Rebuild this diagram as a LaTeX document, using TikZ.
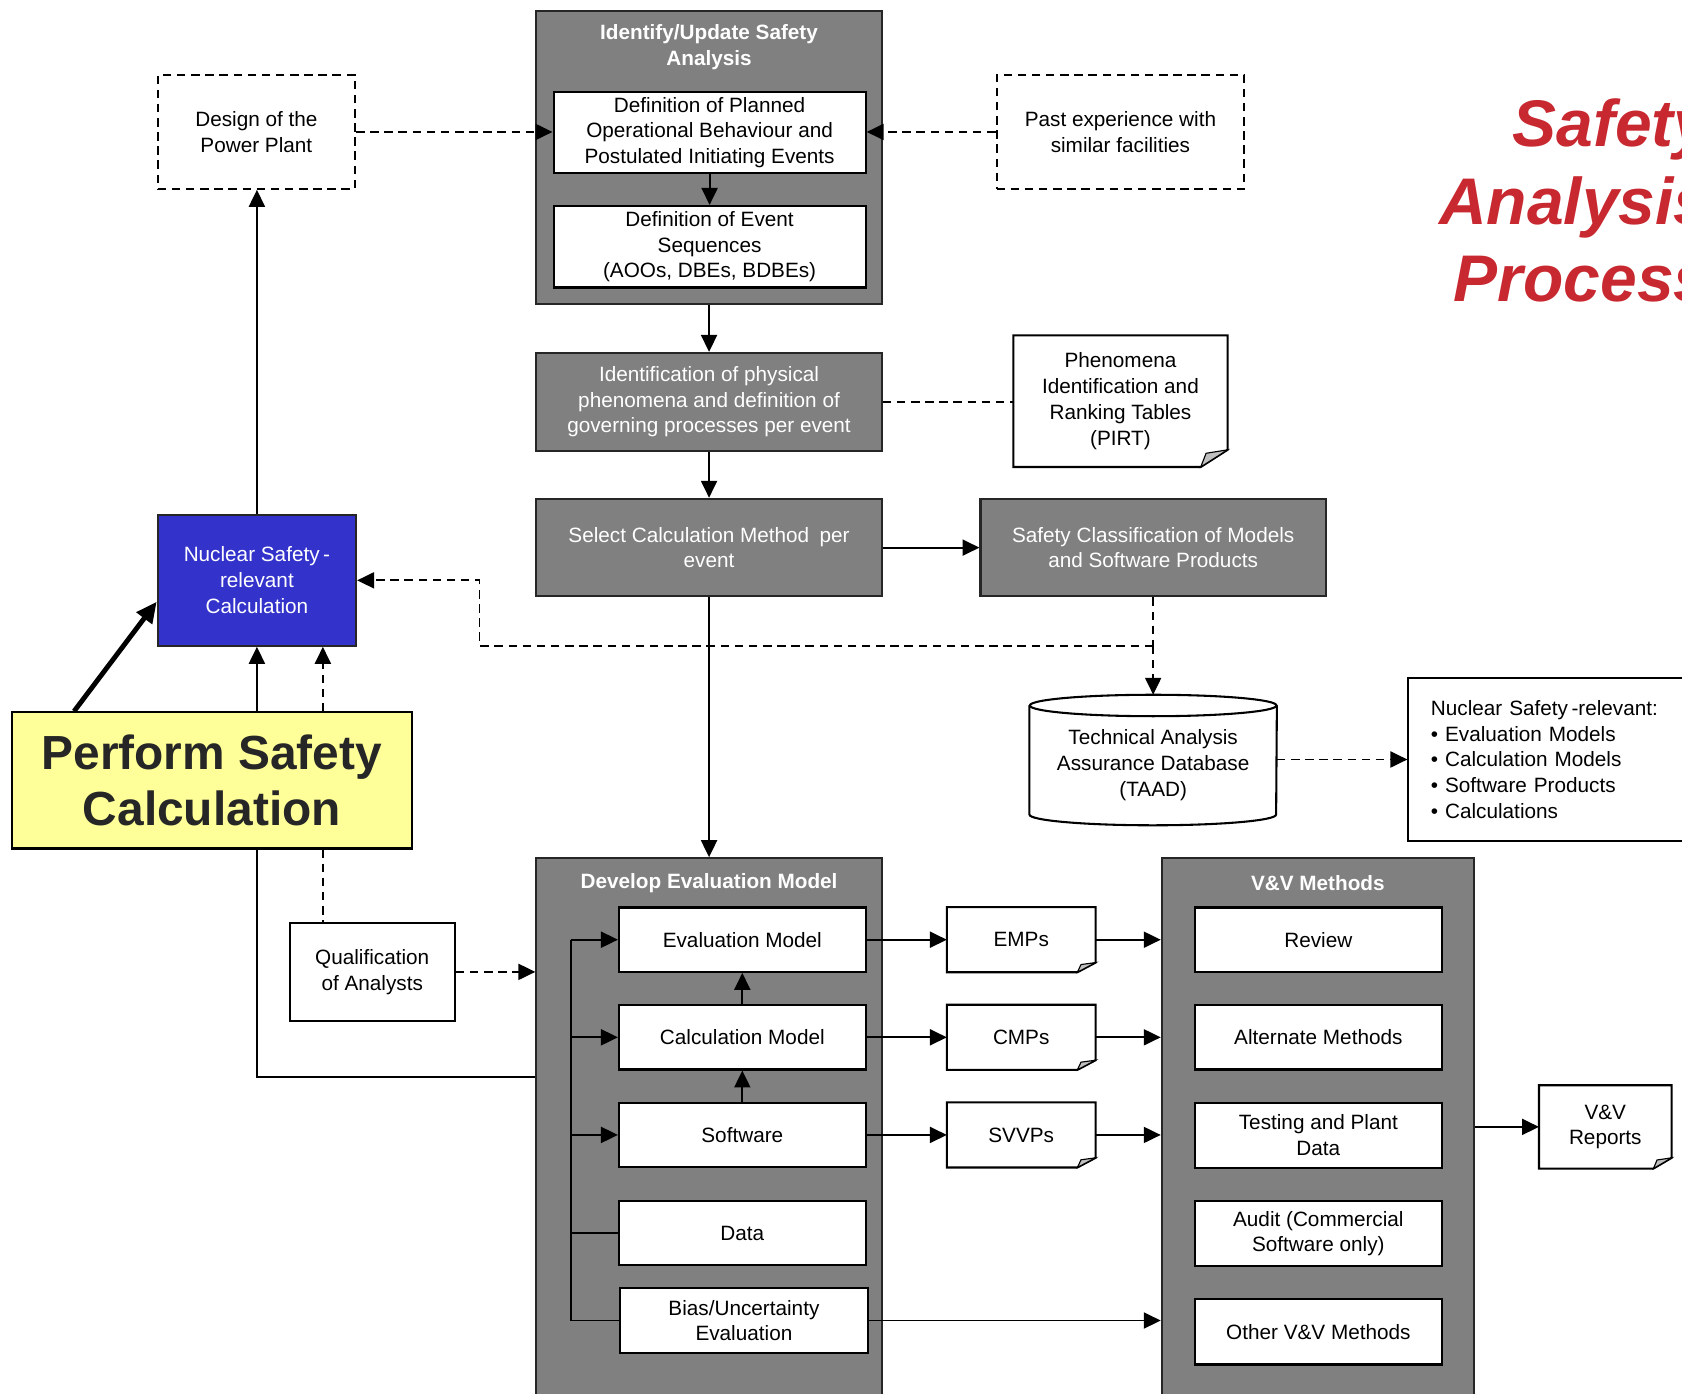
\documentclass[tikz,border=0pt]{standalone}
\usepackage{fontspec}
\setmainfont{Liberation Sans}
\usetikzlibrary{arrows.meta,calc}
\definecolor{boxgray}{HTML}{808080}
\definecolor{nscblue}{HTML}{3333CC}
\definecolor{calcyellow}{HTML}{FFFF99}
\definecolor{titlered}{RGB}{200,40,48}
\tikzset{
    txt/.style = {font=\fontsize{11}{13.7}\selectfont, align=center, inner sep=0pt},
    grey/.style = {txt, draw=black!85, line width=1.1pt, fill=boxgray, text=white},
    block/.style = {txt, draw, line width=1.1pt, fill=white},
    dblock/.style = {txt, draw, dash pattern=on 4.5pt off 3pt, line width=1.1pt},
    doc/.style = {txt},
    head/.style = {txt, text=white, font=\fontsize{11}{13.7}\selectfont\bfseries},
    arrow/.style = {draw, line width=1pt, -{Triangle[length=9pt,width=8.5pt]}},
    darrow/.style = {arrow, dash pattern=on 4.5pt off 3pt},
    line/.style = {draw, line width=1pt},
    dline/.style = {line, dash pattern=on 4.5pt off 3pt}
}
\begin{document}
\begin{tikzpicture}[x=0.02cm, y=-0.02cm]
\useasboundingbox (0,0) rectangle (1568,1299);

\node[anchor=east, align=right, inner sep=0pt, text=titlered, font=\fontsize{35}{41}\selectfont\bfseries\itshape] (title) at (1595,187) {Safety\\Analysis\\Process};

\node[grey, minimum width=6.44cm, minimum height=5.46cm] (ident) at (661,146.5) {};
\node[head] (identT) at (661,44) {Identify/Update Safety\\Analysis};
\node[block, minimum width=5.82cm, minimum height=1.5cm] (defPIE) at (661.5,123.5) {Definition of Planned\\Operational Behaviour and\\Postulated Initiating Events};
\node[block, minimum width=5.82cm, minimum height=1.52cm] (defSeq) at (661.5,230) {Definition of Event\\Sequences\\(AOOs, DBEs, BDBEs)};
\node[dblock, minimum width=3.68cm, minimum height=2.12cm] (design) at (239,123) {Design of the\\Power Plant};
\node[dblock, minimum width=4.62cm, minimum height=2.12cm] (past) at (1044.5,123) {Past experience with\\similar facilities};
\node[grey, minimum width=6.44cm, minimum height=1.82cm] (phys) at (661,374.5) {Identification of physical\\phenomena and definition of\\governing processes per event};
\node[doc, minimum width=3.98cm, minimum height=2.44cm] (pirt) at (1044.5,374) {Phenomena\\Identification and\\Ranking Tables\\(PIRT)};
\node[grey, minimum width=6.44cm, minimum height=1.82cm] (select) at (661,510.5) {Select Calculation Method\enspace per\\event};
\node[grey, minimum width=6.44cm, minimum height=1.82cm] (classif) at (1075,510.5) {Safety Classification of Models\\and Software Products};
\node[txt, minimum width=4.6cm, minimum height=1.82cm] (taad) at (1075,713.5) {Technical Analysis\\Assurance Database\\(TAAD)};
\node[txt, draw, line width=1.1pt, anchor=west, minimum height=3.04cm, text width=5.2cm, inner xsep=0.42cm, align=left] (list) at (1312,708) {Nuclear Safety\,-relevant:\\\textbullet\ Evaluation Models\\\textbullet\ Calculation Models\\\textbullet\ Software Products\\\textbullet\ Calculations};

\node[grey, fill=nscblue, minimum width=3.7cm, minimum height=2.44cm] (nsc) at (239.5,541) {Nuclear Safety\,-\\relevant\\Calculation};
\node[txt, draw, line width=1.1pt, fill=calcyellow, text=black!85, minimum width=7.46cm, minimum height=2.54cm, font=\fontsize{25.4}{29.6}\selectfont\bfseries] (perform) at (197.5,727.5) {Perform Safety\\Calculation};
\node[block, minimum width=3.08cm, minimum height=1.84cm] (qualif) at (347,906) {Qualification\\of Analysts};

\node[grey, minimum width=6.44cm, minimum height=10.4cm] (dem) at (661,1060) {};
\node[head] (demT) at (661,823) {Develop Evaluation Model};
\node[block, minimum width=4.6cm, minimum height=1.2cm] (evalm) at (692,876) {Evaluation Model};
\node[block, minimum width=4.6cm, minimum height=1.2cm] (calcm) at (692,967) {Calculation Model};
\node[block, minimum width=4.6cm, minimum height=1.2cm] (soft) at (692,1058) {Software};
\node[block, minimum width=4.6cm, minimum height=1.2cm] (data) at (692,1149.5) {Data};
\node[block, minimum width=4.62cm, minimum height=1.2cm] (bias) at (693.5,1231) {Bias/Uncertainty\\Evaluation};

\node[doc, minimum width=2.76cm, minimum height=1.2cm] (emps) at (952,876) {EMPs};
\node[doc, minimum width=2.76cm, minimum height=1.2cm] (cmps) at (952,967) {CMPs};
\node[doc, minimum width=2.76cm, minimum height=1.2cm] (svvps) at (952,1058) {SVVPs};

\node[grey, minimum width=5.82cm, minimum height=10.4cm] (vv) at (1228.5,1060) {};
\node[head] (vvT) at (1228.5,823) {V\&V Methods};
\node[block, minimum width=4.6cm, minimum height=1.2cm] (review) at (1229,876) {Review};
\node[block, minimum width=4.6cm, minimum height=1.2cm] (alt) at (1229,967) {Alternate Methods};
\node[block, minimum width=4.6cm, minimum height=1.22cm] (test) at (1229,1058.5) {Testing and Plant\\Data};
\node[block, minimum width=4.6cm, minimum height=1.2cm] (audit) at (1229,1150) {Audit (Commercial\\Software only)};
\node[block, minimum width=4.6cm, minimum height=1.22cm] (other) at (1229,1241.5) {Other V\&V Methods};
\node[doc, minimum width=2.46cm, minimum height=1.54cm] (reports) at (1496.5,1050.5) {V\&V\\Reports};

\foreach \n/\dx/\dy in {pirt/0.5cm/0.32cm, emps/0.34cm/0.18cm, cmps/0.34cm/0.18cm, svvps/0.34cm/0.18cm, reports/0.34cm/0.2cm} {
    \draw[line width=1.1pt] (\n.north west) -- (\n.north east) -- ([yshift=\dy]\n.south east) -- ([xshift=-\dx]\n.south east) -- (\n.south west) -- cycle;
    \filldraw[fill=black!25, line width=0.6pt] ([yshift=\dy]\n.south east) -- ([xshift=-\dx]\n.south east) -- ($(\n.south east)+(-0.8*\dx,0.8*\dy)$) -- cycle;
}

\draw[line width=1.1pt] ([yshift=0.2cm]taad.north west) -- (taad.south west) arc[start angle=180, end angle=360, x radius=2.3cm, y radius=0.2cm] -- ([yshift=0.2cm]taad.north east);
\draw[line width=1.1pt] ([yshift=0.2cm]taad.north) ellipse [x radius=2.3cm, y radius=0.2cm];

\draw[arrow] (defPIE) -- (defSeq);
\draw[arrow] (ident) -- (phys);
\draw[darrow] (design.east) -- (design.east -| defPIE.west);
\draw[darrow] (past.west) -- (past.west -| defPIE.east);
\draw[dline] (phys.east) -- (phys.east -| pirt.west);
\draw[arrow] (phys) -- (select);
\draw[arrow] (select) -- (classif);
\coordinate (jn) at (1075,602);
\coordinate (bend) at (447,602);
\draw[dline] (classif.south) -- (jn);
\draw[darrow] (jn) -- (bend) |- (nsc.east);
\draw[darrow] (jn) -- ([yshift=0.4cm]taad.north);
\draw[darrow] (list.west -| taad.east) -- (list.west);
\draw[arrow] (select) -- (dem);

\draw[arrow] (nsc.north) -- (nsc.north |- design.south);
\draw[arrow, line width=2.6pt, -{Triangle[length=11pt,width=10pt]}] ([xshift=1.18cm]perform.north west) -- ([yshift=-0.4cm]nsc.west);
\coordinate (q) at ([xshift=1.23cm]nsc.south);
\draw[arrow] (nsc.south |- perform.north) -- (nsc.south);
\draw[darrow] (q |- perform.north) -- (q);
\draw[line] (nsc.south |- perform.south) |- ([yshift=1.12cm]dem.west);
\draw[dline] (q |- perform.south) -- (q |- qualif.north);
\draw[darrow] (qualif.east) -- (qualif.east -| dem.west);

\draw[arrow] (calcm) -- (evalm);
\draw[arrow] (soft) -- (calcm);
\coordinate (bus) at (532,1000);
\draw[line] (bus |- evalm) -- (bus |- bias);
\foreach \n in {evalm,calcm,soft}
    \draw[arrow] (bus |- \n) -- (\n.west);
\foreach \n in {data,bias}
    \draw[line] (\n.west) -- (bus |- \n);
\foreach \a/\b in {evalm/emps, calcm/cmps, soft/svvps} {
    \draw[arrow] (\a) -- (\b);
    \draw[arrow] (\b.east) -- (\b.east -| vv.west);
}
\draw[arrow] (bias.east) -- (bias.east -| vv.west);
\draw[arrow] (vv.east |- reports.west) -- (reports.west);
\end{tikzpicture}
\end{document}
